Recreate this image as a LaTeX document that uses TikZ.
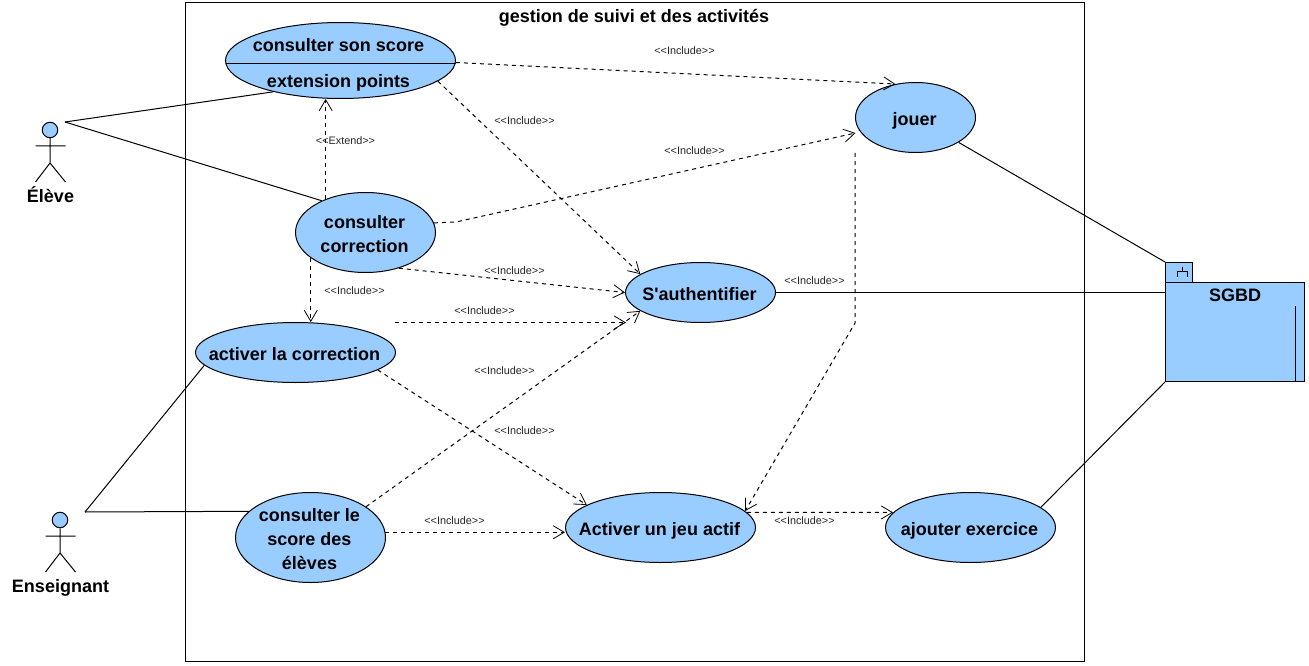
\documentclass[tikz,border=0pt]{standalone}
\usepackage{fontspec}
\setmainfont{Liberation Sans}
\usetikzlibrary{shapes.geometric,arrows.meta}
\definecolor{ucblue}{HTML}{99CCFF}
\newcommand\uctext[2]{\makebox[0pt][c]{\raisebox{-#1pt}[0pt][0pt]{\begin{tabular}[b]{@{}c@{}}#2\end{tabular}}\hspace*{2pt}}}
\tikzset{
  bigfont/.style={font=\fontsize{18}{24}\selectfont\bfseries},
  usecase/.style={ellipse,draw=black,fill=ucblue,line width=1pt,inner sep=0pt,bigfont},
  boldtext/.style={inner sep=0pt,anchor=base,bigfont},
  stereo/.style={inner sep=0pt,font=\fontsize{10.85}{12}\selectfont,text=black!85},
  incl/.style={draw=black,line width=1pt,dash pattern=on 4pt off 4pt,-{Straight Barb[length=11pt,width=13pt,line width=0.8pt]}},
  assoc/.style={draw=black,line width=1pt},
  pkgbox/.style={rectangle,draw=black,fill=ucblue,line width=1pt,inner sep=0pt},
  actorhead/.style={circle,draw=black,fill=ucblue,line width=1pt,inner sep=0pt,minimum size=15.5pt},
}
\begin{document}
\begin{tikzpicture}[x=1pt,y=-1pt]
\useasboundingbox (0,0) rectangle (1309,666);
\fill[white] (0,0) rectangle (1309,666);
% system boundary
\node[rectangle,draw=black,line width=1pt,minimum width=899pt,minimum height=659pt,inner sep=0pt] (boundary) at (635,332) {};
\node[boldtext] (title) at (634,22.3) {gestion de suivi et des activités};
% use cases
\node[usecase,minimum width=230pt,minimum height=76pt] (score) at (340.5,60.5) {};
\draw[assoc] (225.5,64) coordinate (lineL) -- (455.5,64) coordinate (lineR);
\node[boldtext] (scoretxt) at (338.5,51.3) {consulter son score};
\node[boldtext] (exttxt) at (338.5,87.3) {extension points};
\node[usecase,minimum width=140pt,minimum height=80pt] (correction) at (365.5,232.5) {\uctext{19.5}{consulter\\correction}};
\node[usecase,minimum width=200pt,minimum height=60pt] (activer) at (295.5,352.5) {\uctext{7.5}{activer la correction}};
\node[usecase,minimum width=150pt,minimum height=60pt] (sauth) at (700.5,292.5) {\uctext{7.5}{S\textquotesingle authentifier}};
\node[usecase,minimum width=120pt,minimum height=70pt] (jouer) at (915.5,117.5) {\uctext{8}{jouer}};
\node[usecase,minimum width=150pt,minimum height=90pt] (eleves) at (310.5,537.5) {\uctext{31.5}{consulter le\\score des\\élèves}};
\node[usecase,minimum width=190pt,minimum height=70pt] (jeu) at (660.5,527.5) {\uctext{8}{Activer un jeu actif}};
\node[usecase,minimum width=170pt,minimum height=70pt] (ajouter) at (970.5,527.5) {\uctext{8}{ajouter exercice}};
% package
\node[pkgbox,minimum width=27pt,minimum height=20pt] (tab) at (1179,272.5) {};
\node[pkgbox,minimum width=139pt,minimum height=99pt] (sgbd) at (1235,332) {};
\node[boldtext] (sgbdtxt) at (1235,301.7) {SGBD};
\draw[line width=1pt] (1295.3,306) -- (1295.3,381.5);
\draw[line width=1pt] (1182.5,266.7) -- (1182.5,271.7) (1177.3,277) -- (1177.3,271.7) -- (1187.7,271.7) -- (1187.7,277);
% actors
\node[actorhead] (headA) at (50,130) {};
\draw[line width=1pt] (headA.south) -- (50,163) (35.5,146) -- (65.5,146) (35.5,182) -- (50,163) -- (65.5,182);
\node[boldtext] (eleve) at (50.5,202) {Élève};
\node[actorhead] (headB) at (60,520) {};
\draw[line width=1pt] (headB.south) -- (60,553) (45.5,536) -- (75.5,536) (45.5,572) -- (60,553) -- (75.5,572);
\node[boldtext] (enseignant) at (60.5,592) {Enseignant};
\coordinate (eleveTie) at (65,122);
\coordinate (ensTie) at (85,512);
% free ends
\coordinate (corrBend) at (456,222);
\coordinate (jouerIn) at (855.5,133);
\coordinate (actOut) at (395,322.5);
\coordinate (sauthIn) at (626,322.5);
% associations
\draw[assoc] (eleveTie) -- (score.205.3);
\draw[assoc] (eleveTie) -- (correction.144);
\draw[assoc] (ensTie) -- (activer.188);
\draw[assoc] (ensTie) -- (eleves.157.6);
\draw[assoc] (jouer.-30.5) -- (tab.north west);
\draw[assoc] (sauth.east) -- (sauth.east -| sgbd.west);
\draw[assoc] (ajouter.16.4) -- (sgbd.south west);
% includes
\draw[incl] (score.-1.5) -- (jouer.121.5);
\draw[incl] (score.-12.4) -- (sauth.163.5);
\draw[incl] (correction.140.4) -- (correction.140.4 |- score.south);
\draw[incl] (correction.8.7) -- (corrBend) -- (jouerIn);
\draw[incl] (correction.-47.5) -- (sauth.west);
\draw[incl] (correction.205.7) -- (correction.205.7 |- activer.north);
\draw[incl] (actOut) -- (sauthIn);
\draw[incl] (activer.-12.6) -- (jeu.163.6);
\draw[incl] (eleves.29.7) -- (sauth.197.3);
\draw[incl] (eleves.4) -- (eleves.4 -| jeu.west);
\draw[incl] (jouer.west |- jouer.south) -- (jouer.west |- sauth.south) -- (jeu.11.5);
\draw[incl] (jeu.10) -- (ajouter.169.4);
% stereotypes
\node[stereo] (s1) at (684.5,50.5) {<{}<Include>{}>};
\node[stereo] (s2) at (524.5,120.5) {<{}<Include>{}>};
\node[stereo] (s3) at (345.5,140.5) {<{}<Extend>{}>};
\node[stereo] (s4) at (694.5,150.5) {<{}<Include>{}>};
\node[stereo] (s5) at (514.5,270.5) {<{}<Include>{}>};
\node[stereo] (s6) at (814.5,280.5) {<{}<Include>{}>};
\node[stereo] (s7) at (354.5,290.5) {<{}<Include>{}>};
\node[stereo] (s8) at (484.5,310.5) {<{}<Include>{}>};
\node[stereo] (s9) at (504.5,370.5) {<{}<Include>{}>};
\node[stereo] (s10) at (524.5,430.5) {<{}<Include>{}>};
\node[stereo] (s11) at (454.5,520.5) {<{}<Include>{}>};
\node[stereo] (s12) at (804.5,520.5) {<{}<Include>{}>};
\end{tikzpicture}
\end{document}
